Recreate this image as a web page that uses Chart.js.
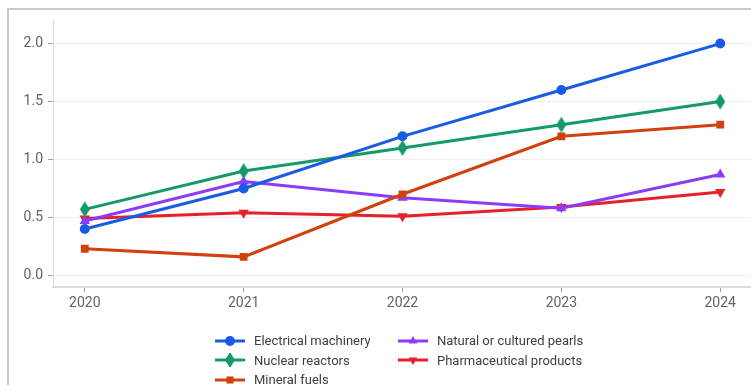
<!DOCTYPE html>
<html>
<head>
<meta charset="utf-8">
<script src="https://cdn.jsdelivr.net/npm/chart.js@4/dist/chart.umd.min.js"></script>
<style>
	body { margin: 0; width: 751px; height: 385px; overflow: hidden; background: #fff; font-family: Roboto, "Noto Sans", sans-serif; }
	#frame { position: absolute; left: 7px; top: 8px; width: 760px; height: 400px; border-top: 2px solid #c9c9c9; border-left: 2px solid #c9c9c9; }
	#chartbox { position: absolute; left: 9px; top: 7px; width: 749px; height: 315px; }
	#legend { position: absolute; left: 215px; top: 331px; display: grid; grid-template-columns: 183px 220px; grid-auto-flow: column; grid-template-rows: repeat(3, 19.5px); }
	.legenditem { display: flex; align-items: center; font-size: 13px; color: #3c4043; white-space: nowrap; }
	.legenditem canvas { margin-right: 9px; }
</style>
</head>
<body>
<div id="frame"></div>
<div id="chartbox"><canvas id="chart"></canvas></div>
<div id="legend"></div>
<script>
// chart data
const years = [2020, 2021, 2022, 2023, 2024];
const seriesNames = ['Electrical machinery', 'Nuclear reactors', 'Mineral fuels', 'Natural or cultured pearls', 'Pharmaceutical products'];
const electricalMachinery = [0.40, 0.75, 1.20, 1.60, 2.00];
const nuclearReactors = [0.57, 0.90, 1.10, 1.30, 1.50];
const mineralFuels = [0.23, 0.16, 0.70, 1.20, 1.30];
const naturalPearls = [0.47, 0.81, 0.67, 0.58, 0.87];
const pharmaProducts = [0.49, 0.54, 0.51, 0.59, 0.72];
const yTickValues = [0, 0.5, 1.0, 1.5, 2.0];

const seriesValues = [electricalMachinery, nuclearReactors, mineralFuels, naturalPearls, pharmaProducts];
const seriesColors = ['#1a5be3', '#149a66', '#d1400d', '#8b3cfb', '#e6202b'];

// thin vertical diamond, not available as a built-in point style
function makeDiamond(color, w, h) {
	const c = document.createElement('canvas');
	c.width = w;
	c.height = h;
	const ctx = c.getContext('2d');
	ctx.fillStyle = color;
	ctx.beginPath();
	ctx.moveTo(w / 2, 0);
	ctx.lineTo(w, h / 2);
	ctx.lineTo(w / 2, h);
	ctx.lineTo(0, h / 2);
	ctx.closePath();
	ctx.fill();
	return c;
}

const pointStyles = ['circle', makeDiamond(seriesColors[1], 10, 16), 'rect', 'triangle', 'triangle'];
const pointRotations = [0, 0, 0, 0, 180];
const pointRadii = [5, 6, 5.5, 6, 6];

const datasets = seriesNames.map((name, i) => {
	return {
		label: name,
		data: years.map((yr, j) => ({ x: yr, y: seriesValues[i][j] })),
		borderColor: seriesColors[i],
		backgroundColor: seriesColors[i],
		borderWidth: 3,
		pointStyle: pointStyles[i],
		rotation: pointRotations[i],
		pointRadius: pointRadii[i],
		pointHoverRadius: pointRadii[i],
		pointBorderWidth: 0,
		fill: false,
		tension: 0
	};
});

const tickFont = { family: 'Roboto, "Noto Sans", sans-serif', size: 14 };

const chart = new Chart(document.getElementById('chart'), {
	type: 'line',
	data: { datasets: datasets },
	options: {
		responsive: true,
		maintainAspectRatio: false,
		animation: false,
		layout: { padding: { top: 8, right: 0, left: 0, bottom: 0 } },
		scales: {
			x: {
				type: 'linear',
				min: 2019.8,
				max: 2024.2,
				afterBuildTicks: (scale) => { scale.ticks = years.map((v) => ({ value: v })); },
				afterFit: (scale) => { scale.height = 35; },
				ticks: {
					color: '#5f6368',
					font: tickFont,
					padding: 3,
					callback: (v) => String(v)
				},
				grid: { drawOnChartArea: false, drawTicks: true, tickLength: 5, tickColor: '#9aa0a6', tickWidth: 1 },
				border: { color: '#dadce0', width: 2 }
			},
			y: {
				type: 'linear',
				min: -0.1,
				max: 2.2,
				afterBuildTicks: (scale) => { scale.ticks = yTickValues.map((v) => ({ value: v })); },
				afterFit: (scale) => { scale.width = 44; },
				ticks: {
					color: '#5f6368',
					font: tickFont,
					padding: 5,
					callback: (v) => v.toFixed(1)
				},
				grid: { color: '#eeeeee', lineWidth: 1, tickLength: 5, tickColor: '#9aa0a6' },
				border: { color: '#dadce0', width: 1 }
			}
		},
		plugins: {
			legend: { display: false },
			tooltip: { enabled: false },
			title: { display: false }
		}
	}
});

// html legend, laid out in columns like the original
const legendDiv = document.getElementById('legend');
chart.data.datasets.forEach((ds) => {
	const item = document.createElement('div');
	item.className = 'legenditem';
	const icon = document.createElement('canvas');
	icon.width = 30;
	icon.height = 14;
	const ctx = icon.getContext('2d');
	ctx.strokeStyle = ds.borderColor;
	ctx.lineWidth = 3;
	ctx.beginPath();
	ctx.moveTo(0, 7);
	ctx.lineTo(30, 7);
	ctx.stroke();
	ctx.fillStyle = ds.backgroundColor;
	Chart.helpers.drawPoint(ctx, { pointStyle: ds.pointStyle, rotation: ds.rotation, radius: 5, borderWidth: 0 }, 15, 7);
	item.appendChild(icon);
	const label = document.createElement('span');
	label.textContent = ds.label;
	item.appendChild(label);
	legendDiv.appendChild(item);
});
</script>
</body>
</html>
